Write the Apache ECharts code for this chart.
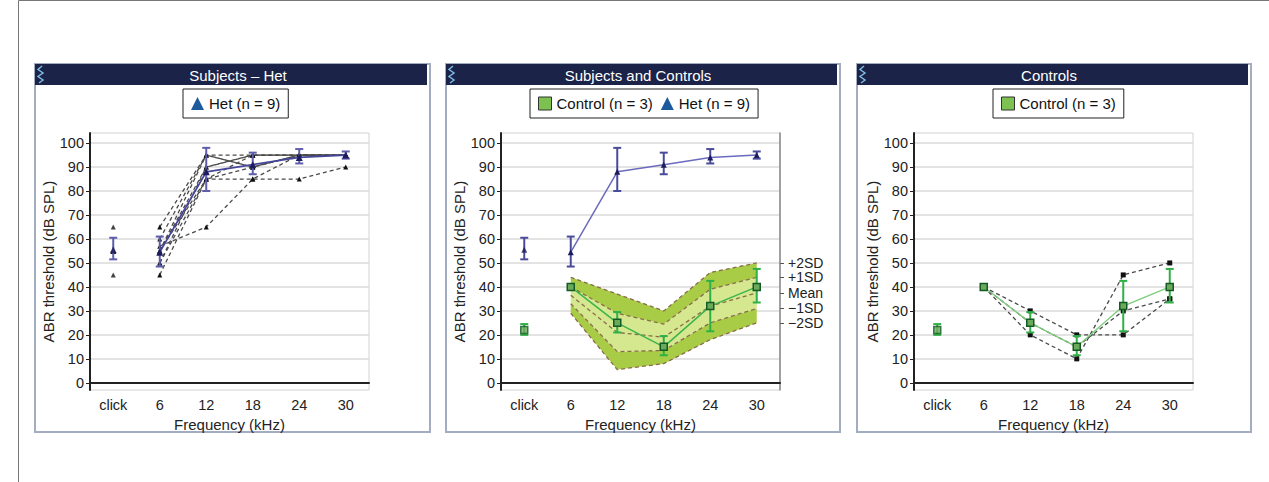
<!DOCTYPE html>
<html><head><meta charset="utf-8">
<script src="https://cdn.jsdelivr.net/npm/echarts@6/dist/echarts.min.js"></script>
<style>html,body{margin:0;padding:0;background:#fff}#c{width:1269px;height:482px}</style>
</head><body><div id="c"></div>
<script>
// ---------- data ----------
const categories = ['click', '6', '12', '18', '24', '30'];
const yTicks = [0, 10, 20, 30, 40, 50, 60, 70, 80, 90, 100];

const hetMean = [55.5, 54.5, 88, 91, 94, 95];
const hetErrLow = [51.5, 48.5, 80, 87, 91.5, 93.5];
const hetErrHigh = [60.5, 61, 98, 96, 97.5, 96.5];
const hetSubjects = [
  [65, 65, 95, 95, 95, 95],
  [45, 45, 85, 85, 85, 90],
  [55, 57, 65, 85, 95, 95],
  [55, 50, 90, 95, 95, 95],
  [55, 55, 95, 90, 95, 95],
  [55, 50, 85, 90, 95, 95],
  [55, 55, 90, 95, 95, 95],
  [55, 60, 95, 90, 95, 95],
  [55, 55, 85, 95, 95, 95]
];

const controlMean = [22, 40, 25, 15, 32, 40];
const controlErrLow = [20, null, 21, 11.5, 21.5, 33.5];
const controlErrHigh = [24.5, null, 29.5, 19.5, 42.5, 47.5];
const controlSubjects = [
  [null, 40, 30, 20, 20, 35],
  [null, 40, 25, 15, 30, 35],
  [null, 40, 20, 10, 45, 50]
];

const bandPlus2SD  = [null, 44, 37, 30, 46, 50];
const bandPlus1SD  = [null, 40, 29, 24.5, 39, 44];
const bandMean     = [null, 36.5, 21, 19, 32, 37.5];
const bandMinus1SD = [null, 33, 13, 13.5, 25, 31];
const bandMinus2SD = [null, 29, 5.5, 8, 18, 25];
const sdLabels = ['+2SD', '+1SD', 'Mean', '\u22121SD', '\u22122SD'];

const panelTitles = ['Subjects \u2013 Het', 'Subjects and Controls', 'Controls'];

// ---------- layout ----------
const panels = [
  {x: 35, w: 395, gridLeft: 90, titleX: 238, legendLeft: 183},
  {x: 446, w: 394, gridLeft: 501, titleX: 638, legendLeft: 530},
  {x: 857, w: 394, gridLeft: 914, titleX: 1049, legendLeft: 993}
];
const panelTop = 64, panelBottom = 432;
const YMIN = -3, YMAX = 104.2;
const FONT = 'Liberation Sans, Arial, sans-serif';

const graphic = [];
graphic.push({type: 'rect', shape: {x: 18.5, y: 0.5, width: 1300, height: 500}, style: {fill: 'none', stroke: '#777', lineWidth: 1}, silent: true});
panels.forEach((p, i) => {
  graphic.push({type: 'rect', shape: {x: p.x, y: panelTop, width: p.w, height: panelBottom - panelTop}, style: {fill: 'none', stroke: '#a3adc2', lineWidth: 2}, silent: true});
  graphic.push({type: 'rect', shape: {x: p.x, y: panelTop, width: p.w - 3, height: 21}, style: {fill: '#1b2348'}, silent: true});
  graphic.push({type: 'polyline', shape: {points: [[42, 66], [38, 69.5], [43, 73], [38, 76.5], [43, 80], [39, 83]].map(q => [q[0] - 35 + p.x, q[1]])}, style: {stroke: '#7db9e2', lineWidth: 1.5, fill: 'none'}, silent: true});
  graphic.push({type: 'text', x: p.titleX, y: 75, style: {text: panelTitles[i], fill: '#fff', font: '15px ' + FONT, textAlign: 'center', textVerticalAlign: 'middle'}, silent: true});
});

// ---------- helpers ----------
function errBars(gi, low, high, color, capW) {
  const data = [];
  low.forEach((l, i) => { if (l != null && high[i] != null) data.push([i, l, high[i]]); });
  return {
    type: 'custom', xAxisIndex: gi, yAxisIndex: gi, z: 4, data: data,
    encode: {x: 0, y: [1, 2]},
    renderItem: function (params, api) {
      const x = api.value(0);
      const p1 = api.coord([x, api.value(1)]);
      const p2 = api.coord([x, api.value(2)]);
      const hw = capW / 2;
      const st = {stroke: color, lineWidth: 2};
      return {type: 'group', children: [
        {type: 'line', shape: {x1: p1[0], y1: p1[1], x2: p2[0], y2: p2[1]}, style: st},
        {type: 'line', shape: {x1: p1[0] - hw, y1: p1[1], x2: p1[0] + hw, y2: p1[1]}, style: st},
        {type: 'line', shape: {x1: p2[0] - hw, y1: p2[1], x2: p2[0] + hw, y2: p2[1]}, style: st}
      ]};
    }
  };
}
const withoutClick = arr => arr.map((v, i) => (i === 0 || v == null) ? '-' : v);
const onlyClick = arr => arr.map((v, i) => (i === 0 && v != null) ? v : '-');
const diff = (a, b) => a.map((v, i) => (v == null || b[i] == null) ? '-' : +(v - b[i]).toFixed(3));

const series = [];
// ---- Panel 1: Het subjects ----
hetSubjects.forEach((s) => {
  series.push({type: 'line', xAxisIndex: 0, yAxisIndex: 0, data: withoutClick(s), symbol: 'triangle', symbolSize: 5,
    itemStyle: {color: '#111'}, lineStyle: {color: '#4a4a4a', width: 1.3, type: [4, 3]}, z: 2, silent: true});
  series.push({type: 'scatter', xAxisIndex: 0, yAxisIndex: 0, data: onlyClick(s), symbol: 'triangle', symbolSize: 5,
    itemStyle: {color: '#111'}, z: 2, silent: true});
});
series.push(errBars(0, hetErrLow, hetErrHigh, '#5d5dab', 8));
series.push({name: 'Het (n = 9)', type: 'line', xAxisIndex: 0, yAxisIndex: 0, data: withoutClick(hetMean), symbol: 'triangle', symbolSize: 7,
  itemStyle: {color: '#1c1c5e'}, lineStyle: {color: '#45459a', width: 1.8}, z: 5});
series.push({name: 'Het (n = 9)', type: 'scatter', xAxisIndex: 0, yAxisIndex: 0, data: onlyClick(hetMean), symbol: 'triangle', symbolSize: 7,
  itemStyle: {color: '#1c1c5e'}, z: 5});

// ---- Panel 2: band ----
const bandLine = {color: '#8a6d4b', width: 1.3, type: [4, 3]};
const darkFill = '#a8cc46', lightFill = '#d5e78f';
series.push({type: 'line', xAxisIndex: 1, yAxisIndex: 1, stack: 'band', data: withoutClick(bandMinus2SD), symbol: 'none', lineStyle: bandLine, z: 1, silent: true});
series.push({type: 'line', xAxisIndex: 1, yAxisIndex: 1, stack: 'band', data: diff(bandMinus1SD, bandMinus2SD), symbol: 'none', lineStyle: bandLine, areaStyle: {color: darkFill, opacity: 1}, z: 1, silent: true});
series.push({type: 'line', xAxisIndex: 1, yAxisIndex: 1, stack: 'band', data: diff(bandPlus1SD, bandMinus1SD), symbol: 'none', lineStyle: bandLine, areaStyle: {color: lightFill, opacity: 1}, z: 1, silent: true});
series.push({type: 'line', xAxisIndex: 1, yAxisIndex: 1, stack: 'band', data: diff(bandPlus2SD, bandPlus1SD), symbol: 'none', lineStyle: bandLine, areaStyle: {color: darkFill, opacity: 1}, z: 1, silent: true});
series.push({type: 'line', xAxisIndex: 1, yAxisIndex: 1, data: withoutClick(bandMean), symbol: 'none', lineStyle: bandLine, z: 1, silent: true});
// het in panel 2
series.push(errBars(1, hetErrLow, hetErrHigh, '#4b4b9b', 8));
series.push({name: 'Het (n = 9)', type: 'line', xAxisIndex: 1, yAxisIndex: 1, data: withoutClick(hetMean), symbol: 'triangle', symbolSize: 6,
  itemStyle: {color: '#1c1c5e'}, lineStyle: {color: '#6b6bbf', width: 1.5}, z: 5});
series.push({name: 'Het (n = 9)', type: 'scatter', xAxisIndex: 1, yAxisIndex: 1, data: onlyClick(hetMean), symbol: 'triangle', symbolSize: 6,
  itemStyle: {color: '#1c1c5e'}, z: 5});
// control in panel 2
series.push(errBars(1, controlErrLow, controlErrHigh, '#2fb046', 8));
series.push({name: 'Control (n = 3)', type: 'line', xAxisIndex: 1, yAxisIndex: 1, data: withoutClick(controlMean), symbol: 'rect', symbolSize: 7,
  itemStyle: {color: '#6aaa5a', borderColor: '#145a25', borderWidth: 1.5}, lineStyle: {color: '#3cb44b', width: 1.5}, z: 5});
series.push({name: 'Control (n = 3)', type: 'scatter', xAxisIndex: 1, yAxisIndex: 1, data: onlyClick(controlMean), symbol: 'rect', symbolSize: 7,
  itemStyle: {color: '#6aaa5a', borderColor: '#145a25', borderWidth: 1.5}, z: 5});

// ---- Panel 3: controls ----
controlSubjects.forEach((s) => {
  series.push({type: 'line', xAxisIndex: 2, yAxisIndex: 2, data: withoutClick(s), symbol: 'rect', symbolSize: 5,
    itemStyle: {color: '#111'}, lineStyle: {color: '#4a4a4a', width: 1.3, type: [4, 3]}, z: 2, silent: true});
});
series.push(errBars(2, controlErrLow, controlErrHigh, '#2fb046', 8));
series.push({name: 'Control (n = 3)', type: 'line', xAxisIndex: 2, yAxisIndex: 2, data: withoutClick(controlMean), symbol: 'rect', symbolSize: 7,
  itemStyle: {color: '#6aaa5a', borderColor: '#145a25', borderWidth: 1.5}, lineStyle: {color: '#7ccc7c', width: 1.3}, z: 5});
series.push({name: 'Control (n = 3)', type: 'scatter', xAxisIndex: 2, yAxisIndex: 2, data: onlyClick(controlMean), symbol: 'rect', symbolSize: 7,
  itemStyle: {color: '#6aaa5a', borderColor: '#145a25', borderWidth: 1.5}, z: 5});

// ---------- axes ----------
const grids = panels.map(p => ({left: p.gridLeft, top: 133, width: 279, height: 257, show: true, borderColor: '#d2d2d2', borderWidth: 1, backgroundColor: '#fff'}));
const xAxes = panels.map((p, i) => ({
  type: 'category', gridIndex: i, data: categories, boundaryGap: true,
  name: 'Frequency (kHz)', nameLocation: 'middle', nameGap: 23,
  nameTextStyle: {fontSize: 15, color: '#222', fontFamily: FONT},
  axisLine: {lineStyle: {color: '#222', width: 2}},
  axisTick: {alignWithLabel: true, length: 4, lineStyle: {color: '#888'}},
  axisLabel: {fontSize: 14.5, color: '#222', fontFamily: FONT, margin: 7, interval: 0},
  splitLine: {show: false}
}));
const yAxes = panels.map((p, i) => ({
  type: 'value', gridIndex: i, min: YMIN, max: YMAX,
  name: 'ABR threshold (dB SPL)', nameLocation: 'middle', nameGap: 31,
  nameTextStyle: {fontSize: 15, color: '#222', fontFamily: FONT},
  axisLine: {show: true, lineStyle: {color: '#222', width: 2}},
  axisTick: {show: true, length: 4, customValues: yTicks, lineStyle: {color: '#222'}},
  axisLabel: {fontSize: 14.5, color: '#222', fontFamily: FONT, margin: 6, customValues: yTicks},
  splitLine: {show: true, lineStyle: {color: '#dadada', width: 1.5}}
}));
const sdValues = [bandPlus2SD[5], bandPlus1SD[5], bandMean[5], bandMinus1SD[5], bandMinus2SD[5]];
yAxes.push({
  type: 'value', gridIndex: 1, position: 'right', min: YMIN, max: YMAX,
  axisLine: {show: true, lineStyle: {color: '#888', width: 1.5}},
  axisTick: {show: true, length: 4, customValues: sdValues, lineStyle: {color: '#555'}},
  axisLabel: {fontSize: 14, lineHeight: 14, color: '#222', fontFamily: FONT, margin: 8, customValues: sdValues, hideOverlap: false,
    showMinLabel: true, showMaxLabel: true,
    formatter: v => { const k = sdValues.indexOf(v); return k >= 0 ? sdLabels[k] : ''; }},
  splitLine: {show: false}
});

// ---------- legends ----------
const triIcon = {name: 'Het (n = 9)', icon: 'triangle', itemStyle: {color: '#1d5a9c', borderWidth: 0}};
const sqIcon = {name: 'Control (n = 3)', icon: 'rect', itemStyle: {color: '#7dc150', borderColor: '#333', borderWidth: 1}};
const legendBase = {top: 89, borderColor: '#222', borderWidth: 1, padding: [7, 8], itemWidth: 13, itemHeight: 13, itemGap: 8,
  textStyle: {fontSize: 15, color: '#111', fontFamily: FONT}, selectedMode: false, backgroundColor: '#fff'};
const legends = [
  Object.assign({}, legendBase, {left: panels[0].legendLeft, data: [triIcon]}),
  Object.assign({}, legendBase, {left: panels[1].legendLeft, data: [sqIcon, triIcon]}),
  Object.assign({}, legendBase, {left: panels[2].legendLeft, data: [sqIcon]})
];

const chart = echarts.init(document.getElementById('c'), null, {renderer: 'svg'});
chart.setOption({
  animation: false,
  backgroundColor: '#fff',
  graphic: graphic,
  legend: legends,
  grid: grids,
  xAxis: xAxes,
  yAxis: yAxes,
  series: series
});
</script></body></html>
